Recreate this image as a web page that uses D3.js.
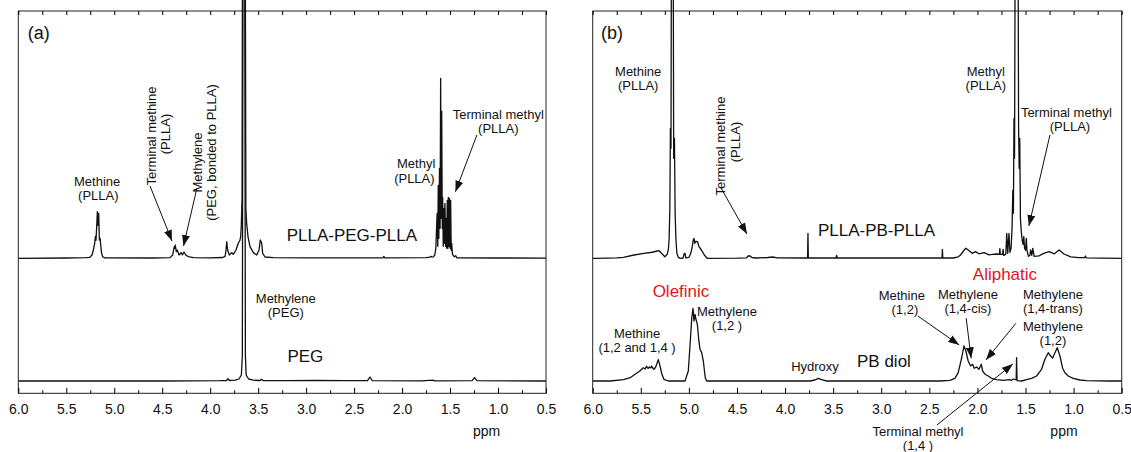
<!DOCTYPE html>
<html>
<head>
<meta charset="utf-8">
<script src="https://cdn.jsdelivr.net/npm/d3@7"></script>
<style>
    body { margin: 0; background: #fff; }
    text { font-family: 'Liberation Sans', Arial, Helvetica, sans-serif; fill: #111; }
</style>
</head>
<body>
<div id="chart"></div>
<script>
// chemical shift axis
var ppmDomain = [6.0, 0.5];
var majorTicks = [6.0, 5.5, 5.0, 4.5, 4.0, 3.5, 3.0, 2.5, 2.0, 1.5, 1.0, 0.5];
var minorTicks = [5.75, 5.25, 4.75, 4.25, 3.75, 3.25, 2.75, 2.25, 1.75, 1.25, 0.75];

// spectra as [ppm, intensity] (tall peaks run off the top)
var pllaPegPlla = [
    [6.00, 0], [5.50, 0.3], [5.30, 0.6], [5.255, 1], [5.232, 3.3], [5.218, 8.3], [5.204, 15],
    [5.196, 22], [5.19, 18], [5.183, 31.7], [5.176, 46.7], [5.169, 33], [5.162, 45], [5.155, 18.3],
    [5.148, 20], [5.14, 12], [5.132, 5], [5.12, 1.5], [5.10, 0.4], [4.60, 0.3], [4.42, 0.7],
    [4.391, 3.3], [4.38, 9], [4.374, 11.7], [4.368, 10], [4.364, 13.3], [4.353, 6.7], [4.343, 8.3],
    [4.325, 3.3], [4.304, 5.7], [4.29, 3.5], [4.273, 6.3], [4.252, 3], [4.228, 1.7], [4.176, 0.7],
    [4.0, 0.5], [3.87, 0.8], [3.845, 2], [3.835, 8], [3.828, 16.7], [3.818, 8.3], [3.80, 3.3],
    [3.776, 5.7], [3.759, 4], [3.731, 8.3], [3.707, 15], [3.69, 18], [3.682, 22], [3.676, 31.7],
    [3.668, 60], [3.662, 400], [3.636, 400], [3.628, 50], [3.62, 35], [3.606, 21.7], [3.585, 11.7],
    [3.55, 5.7], [3.515, 3.3], [3.491, 8.3], [3.478, 18.3], [3.463, 15], [3.453, 5], [3.429, 1.3],
    [3.342, 0.7], [3.0, 0.5], [2.20, 0.5], [2.19, 1.8], [2.18, 0.5], [1.75, 0.7], [1.71, 1.2],
    [1.70, 2], [1.69, 1.2], [1.675, 1.5], [1.66, 3], [1.648, 10], [1.635, 45], [1.628, 12],
    [1.623, 73], [1.617, 20], [1.61, 90], [1.604, 30], [1.598, 180], [1.592, 40], [1.587, 147],
    [1.581, 30], [1.577, 61], [1.571, 12], [1.565, 50], [1.56, 15], [1.553, 55], [1.547, 12],
    [1.541, 40], [1.535, 10], [1.529, 58], [1.523, 10], [1.518, 61], [1.512, 12], [1.506, 60],
    [1.50, 10], [1.494, 58], [1.488, 8], [1.483, 15], [1.475, 4], [1.466, 3], [1.455, 1.5],
    [1.44, 2.5], [1.43, 0.5], [1.0, 0.3], [0.5, 0.2]
];

var peg = [
    [6.0, 0], [4.5, 0], [3.9, 0.3], [3.83, 0.5], [3.815, 2.3], [3.80, 0.5], [3.74, 0.8], [3.70, 2],
    [3.675, 6], [3.665, 25], [3.658, 400], [3.640, 400], [3.633, 25], [3.625, 6], [3.60, 2],
    [3.55, 0.8], [3.48, 0.5], [3.465, 1.7], [3.45, 0.5], [3.2, 0.3], [2.9, 0.7], [2.6, 0.3],
    [2.36, 0.3], [2.335, 4], [2.31, 0.3], [1.8, 0.2], [1.675, 0.8], [1.66, 0.2], [1.27, 0.3],
    [1.245, 3.3], [1.22, 0.3], [0.5, 0]
];

var pllaPbPlla = [
    [6.00, 0], [5.85, 0.2], [5.75, 0.5], [5.68, 1], [5.57, 3.3], [5.47, 5], [5.40, 5.8], [5.37, 6.3],
    [5.33, 7.3], [5.31, 7.6], [5.285, 5], [5.25, 1.6], [5.225, 4], [5.212, 10], [5.205, 20],
    [5.198, 50], [5.192, 130], [5.186, 110], [5.18, 400], [5.165, 400], [5.158, 100], [5.15, 120],
    [5.143, 45], [5.135, 20], [5.125, 5], [5.11, 1], [5.09, 0], [5.06, 0.3], [5.048, 5], [5.04, 5],
    [5.032, 0.5], [5.00, 1], [4.98, 5], [4.965, 11.7], [4.955, 18], [4.947, 20], [4.938, 15],
    [4.93, 17], [4.91, 16.7], [4.895, 11.7], [4.87, 8.3], [4.855, 6], [4.84, 3.3], [4.81, 0],
    [4.50, 0.2], [4.40, 0.5], [4.385, 2.3], [4.365, 2.5], [4.345, 0.8], [4.30, 0.3], [4.18, 0.8],
    [4.13, 1.3], [4.08, 0.5], [3.80, 0.3], [3.766, 0.3], [3.762, 25], [3.758, 0.3], [3.47, 0.3],
    [3.464, 3], [3.458, 0.3], [2.80, 0.3], [2.368, 0.3], [2.364, 9], [2.36, 0.3], [2.25, 0.3],
    [2.20, 1.5], [2.175, 3.3], [2.14, 8], [2.12, 10], [2.09, 7.7], [2.055, 5], [2.02, 6.7],
    [1.985, 4.5], [1.93, 5.7], [1.88, 3.5], [1.84, 4], [1.80, 4.3], [1.772, 4], [1.767, 9.7],
    [1.762, 4], [1.738, 4], [1.733, 9], [1.728, 3], [1.705, 4], [1.695, 25], [1.685, 5],
    [1.672, 25], [1.662, 6], [1.65, 10], [1.64, 30], [1.632, 68], [1.626, 45], [1.62, 140],
    [1.614, 100], [1.605, 400], [1.58, 400], [1.572, 130], [1.566, 90], [1.56, 120], [1.553, 40],
    [1.545, 28], [1.535, 18], [1.525, 14], [1.518, 21.7], [1.51, 10], [1.50, 8], [1.492, 20],
    [1.485, 8], [1.47, 2], [1.455, 3], [1.447, 8.3], [1.435, 3], [1.425, 10], [1.41, 2],
    [1.36, 2.5], [1.31, 5], [1.255, 6.7], [1.20, 4.5], [1.15, 8.3], [1.10, 4.3], [1.03, 1.5],
    [0.95, 0.7], [0.885, 0.7], [0.878, 2.3], [0.87, 0.5], [0.70, 0.2], [0.50, 0]
];

var pbDiol = [
    [6.0, 0], [5.82, 0], [5.68, 1.3], [5.61, 3.3], [5.56, 6.7], [5.51, 10], [5.474, 13.3],
    [5.455, 12], [5.44, 14.7], [5.425, 12.5], [5.41, 14], [5.395, 13], [5.387, 15], [5.375, 13],
    [5.363, 11.7], [5.345, 14], [5.335, 16.7], [5.318, 21.3], [5.30, 15], [5.28, 6.7], [5.26, 1.7],
    [5.214, 0], [5.04, 0], [5.006, 10], [4.99, 33], [4.97, 63], [4.957, 72.7], [4.947, 60],
    [4.936, 66.7], [4.926, 61.7], [4.912, 56.7], [4.898, 41.7], [4.884, 31.7], [4.867, 28.3],
    [4.85, 20], [4.83, 3.3], [4.815, 0], [3.74, 0], [3.69, 1], [3.655, 2.7], [3.62, 1.3],
    [3.567, 0], [2.39, 0], [2.286, 0.7], [2.234, 2.7], [2.20, 8.3], [2.164, 23], [2.14, 35],
    [2.12, 30], [2.096, 20], [2.071, 15], [2.05, 16.7], [2.033, 12.7], [2.008, 14], [1.984, 11.7],
    [1.96, 16.7], [1.946, 10], [1.92, 6.7], [1.888, 5], [1.853, 2.7], [1.80, 1.3], [1.732, 0.7],
    [1.67, 1.3], [1.645, 0.7], [1.628, 2], [1.607, 1.3], [1.597, 1.3], [1.593, 23.3], [1.588, 0.3],
    [1.54, 0], [1.49, 1.3], [1.437, 2.7], [1.385, 5], [1.333, 11.7], [1.298, 21.7], [1.264, 28.3],
    [1.239, 25], [1.218, 23], [1.194, 28.3], [1.17, 33.3], [1.142, 25], [1.114, 12.7], [1.09, 8.3],
    [1.056, 5], [1.004, 2.7], [0.935, 1], [0.865, 0.3], [0.62, 0], [0.5, 0]
];

var width = 1131;
var height = 452;
var red = '#e0161c';

var svg = d3.select('#chart')
    .append('svg')
    .attr('width', width)
    .attr('height', height);

svg.append('defs')
    .append('marker')
    .attr('id', 'arrow')
    .attr('markerUnits', 'userSpaceOnUse')
    .attr('markerWidth', 11)
    .attr('markerHeight', 8)
    .attr('refX', 11)
    .attr('refY', 4)
    .attr('orient', 'auto')
    .append('path')
    .attr('d', 'M0,0 L11,4 L0,8 Z')
    .attr('fill', '#111');

function drawPanel(p) {

    var x = d3.scaleLinear()
        .domain(ppmDomain)
        .range([p.left, p.right]);

    var yTop = d3.scaleLinear()
        .domain([0, 100])
        .range([p.topBase, p.topBase - 100]);

    var yBottom = d3.scaleLinear()
        .domain([0, 100])
        .range([p.bottomBase, p.bottomBase - 100]);

    var g = svg.append('g');

    g.append('clipPath')
        .attr('id', 'clip-' + p.id)
        .append('rect')
        .attr('x', p.left)
        .attr('y', 0)
        .attr('width', p.right - p.left)
        .attr('height', p.bottom);

    g.append('rect')
        .attr('x', p.left)
        .attr('y', p.top)
        .attr('width', p.right - p.left)
        .attr('height', p.bottom - p.top)
        .attr('fill', 'none')
        .attr('stroke', '#222')
        .attr('stroke-width', 1);

    var addSpectrum = function (data, y) {
        g.append('path')
            .datum(data)
            .attr('clip-path', 'url(#clip-' + p.id + ')')
            .attr('fill', 'none')
            .attr('stroke', '#111')
            .attr('stroke-width', 1.3)
            .attr('stroke-linejoin', 'round')
            .attr('d', d3.line()
                .x(function (d) { return x(d[0]); })
                .y(function (d) { return y(d[1]); }));
    };

    addSpectrum(p.top_data, yTop);
    addSpectrum(p.bottom_data, yBottom);

    // bottom axis: major and minor ticks point inward
    var majorAxis = g.append('g')
        .attr('transform', 'translate(0,' + p.bottom + ')')
        .call(d3.axisBottom(x)
            .tickValues(majorTicks)
            .tickSize(-5.5)
            .tickPadding(11)
            .tickFormat(d3.format('.1f')));
    majorAxis.attr('font-size', 14);
    majorAxis.select('.domain').remove();

    g.append('g')
        .attr('transform', 'translate(0,' + p.bottom + ')')
        .call(d3.axisBottom(x)
            .tickValues(minorTicks)
            .tickSize(-3)
            .tickFormat(''))
        .select('.domain').remove();

    g.append('g')
        .attr('transform', 'translate(0,' + p.top + ')')
        .call(d3.axisTop(x)
            .tickValues(majorTicks.concat(minorTicks))
            .tickSize(-4)
            .tickFormat(''))
        .select('.domain').remove();

    g.append('text')
        .attr('x', x(p.ppmAt))
        .attr('y', 431)
        .attr('text-anchor', 'middle')
        .attr('dominant-baseline', 'central')
        .style('font-size', '14px')
        .text('ppm');

    p.labels.forEach(function (a) {
        var y = a.bottom ? yBottom : yTop;
        var px = x(a.ppm);
        var py = y(a.h);
        var t = g.append('text')
            .attr('x', px)
            .attr('y', py)
            .attr('text-anchor', 'middle')
            .attr('dominant-baseline', 'central')
            .style('font-size', (a.size || 13) + 'px')
            .style('fill', a.color || '#111')
            .text(a.text);
        if (a.rotate)
            t.attr('transform', 'rotate(-90,' + px + ',' + py + ')');
    });

    p.arrows.forEach(function (a) {
        var y = a.bottom ? yBottom : yTop;
        g.append('line')
            .attr('x1', x(a.from[0]))
            .attr('y1', y(a.from[1]))
            .attr('x2', x(a.to[0]))
            .attr('y2', y(a.to[1]))
            .attr('stroke', '#111')
            .attr('stroke-width', 1)
            .attr('marker-end', 'url(#arrow)');
    });
}

drawPanel({
    id: 'a',
    left: 18.3, right: 546, top: 11, bottom: 393.3,
    topBase: 258.3, bottomBase: 381,
    top_data: pllaPegPlla,
    bottom_data: peg,
    ppmAt: 1.12,
    labels: [
        {text: '(a)', ppm: 5.787, h: 225, size: 18},
        {text: 'Methine', ppm: 5.178, h: 77},
        {text: '(PLLA)', ppm: 5.166, h: 63},
        {text: 'Terminal methine', ppm: 4.608, h: 122.3, rotate: true},
        {text: '(PLLA)', ppm: 4.461, h: 124.3, rotate: true},
        {text: 'Methylene', ppm: 4.131, h: 95.8, rotate: true},
        {text: '(PEG, bonded to PLLA)', ppm: 3.986, h: 105.8, rotate: true},
        {text: 'Methyl', ppm: 1.853, h: 95},
        {text: '(PLLA)', ppm: 1.872, h: 80},
        {text: 'Terminal methyl', ppm: 0.997, h: 143.5},
        {text: '(PLLA)', ppm: 0.997, h: 129.5},
        {text: 'PLLA-PEG-PLLA', ppm: 2.523, h: 23.3, size: 17},
        {text: 'Methylene', ppm: 3.212, h: 83},
        {text: '(PEG)', ppm: 3.212, h: 69},
        {text: 'PEG', ppm: 3.008, h: 24.3, size: 17, bottom: true}
    ].map(function (a, i) {
        // the two "Methylene (PEG)" lines sit over the PEG trace
        if (i === 12 || i === 13) a.bottom = true;
        return a;
    }),
    arrows: [
        {from: [4.627, 72.3], to: [4.398, 17.3]},
        {from: [4.138, 70.3], to: [4.278, 12.3]},
        {from: [1.220, 123.3], to: [1.444, 66.6]}
    ]
});

drawPanel({
    id: 'b',
    left: 592.7, right: 1121.7, top: 11, bottom: 393.3,
    topBase: 258.3, bottomBase: 381,
    top_data: pllaPbPlla,
    bottom_data: pbDiol,
    ppmAt: 1.10,
    labels: [
        {text: '(b)', ppm: 5.80, h: 225, size: 18},
        {text: 'Methine', ppm: 5.527, h: 187},
        {text: '(PLLA)', ppm: 5.527, h: 173},
        {text: 'Terminal methine', ppm: 4.67, h: 112.3, rotate: true},
        {text: '(PLLA)', ppm: 4.52, h: 116.3, rotate: true},
        {text: 'Methyl', ppm: 1.913, h: 187},
        {text: '(PLLA)', ppm: 1.913, h: 173},
        {text: 'Terminal methyl', ppm: 1.075, h: 145.5},
        {text: '(PLLA)', ppm: 1.038, h: 131.5},
        {text: 'PLLA-PB-PLLA', ppm: 3.049, h: 28.3, size: 17},
        {text: 'Olefinic', ppm: 5.082, h: 90, size: 17, color: red, bottom: true},
        {text: 'Methylene', ppm: 4.604, h: 70, bottom: true},
        {text: '(1,2 )', ppm: 4.604, h: 56, bottom: true},
        {text: 'Methine', ppm: 5.539, h: 47.5, bottom: true},
        {text: '(1,2 and 1,4 )', ppm: 5.539, h: 33.5, bottom: true},
        {text: 'Hydroxy', ppm: 3.689, h: 14.3, bottom: true},
        {text: 'PB diol', ppm: 2.972, h: 19.3, size: 17, bottom: true},
        {text: 'Aliphatic', ppm: 1.714, h: 107, size: 17, color: red, bottom: true},
        {text: 'Methine', ppm: 2.786, h: 85.5, bottom: true},
        {text: '(1,2)', ppm: 2.754, h: 71.5, bottom: true},
        {text: 'Methylene', ppm: 2.099, h: 86.5, bottom: true},
        {text: '(1,4-cis)', ppm: 2.099, h: 72.5, bottom: true},
        {text: 'Methylene', ppm: 1.215, h: 86.5, bottom: true},
        {text: '(1,4-trans)', ppm: 1.215, h: 72.5, bottom: true},
        {text: 'Methylene', ppm: 1.215, h: 54.5, bottom: true},
        {text: '(1,2)', ppm: 1.215, h: 40.5, bottom: true},
        {text: 'Terminal methyl', ppm: 2.618, h: -50.5, bottom: true},
        {text: '(1,4 )', ppm: 2.618, h: -64.5, bottom: true}
    ],
    arrows: [
        {from: [4.666, 70.3], to: [4.396, 24.3]},
        {from: [1.246, 123.3], to: [1.465, 32.3]},
        {from: [2.619, 65], to: [2.189, 36], bottom: true},
        {from: [2.117, 62.7], to: [2.065, 22.7], bottom: true},
        {from: [1.60, 57.7], to: [1.911, 21], bottom: true},
        {from: [2.421, -44], to: [1.631, 17], bottom: true}
    ]
});
</script>
</body>
</html>
